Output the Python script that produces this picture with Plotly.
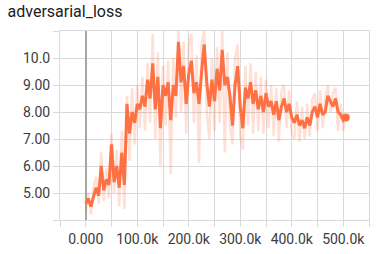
import plotly.graph_objects as go

steps = list(range(0, 505001, 5000))

smoothed = [4.6, 4.8, 4.5, 4.9, 5.2, 4.9, 6.0, 5.1, 5.5, 5.3,
            6.8, 5.4, 6.0, 5.2, 6.5, 5.3, 8.3, 7.2, 8.0, 7.6,
            8.3, 8.1, 8.6, 8.2, 9.2, 8.5, 9.8, 8.1, 9.3, 7.4,
            9.0, 8.6, 9.1, 7.7, 9.0, 8.6, 10.6, 9.1, 9.7, 8.3,
            9.4, 9.9, 8.7, 9.1, 8.3, 9.5, 10.5, 9.1, 8.2, 9.2,
            8.4, 9.6, 8.8, 10.3, 9.0, 9.3, 8.6, 7.5, 9.0, 9.7,
            8.2, 7.4, 8.9, 8.5, 9.1, 8.3, 8.8, 8.1, 8.6, 8.0,
            8.7, 8.2, 8.4, 7.9, 8.4, 7.7, 8.2, 8.5, 8.0, 8.3,
            7.8, 7.6, 7.9, 7.5, 7.7, 7.4, 7.8, 7.5, 8.0, 8.2,
            7.8, 8.3, 7.9, 8.0, 8.6, 8.4, 8.2, 8.5, 8.0, 7.9,
            7.7, 7.8]

raw = [4.3, 5.0, 4.2, 5.2, 5.6, 4.6, 6.5, 4.7, 5.9, 4.8,
       7.2, 5.0, 6.6, 4.5, 7.3, 4.4, 8.6, 6.2, 8.9, 6.8,
       9.0, 7.4, 9.3, 7.3, 9.8, 7.6, 10.9, 7.0, 10.2, 6.0,
       9.7, 7.5, 9.9, 5.7, 10.0, 7.8, 11.0, 8.0, 10.6, 7.2,
       10.5, 10.9, 7.6, 10.1, 6.1, 10.5, 11.0, 8.0, 7.0, 10.0,
       7.3, 10.4, 7.6, 11.0, 6.5, 10.2, 7.5, 6.8, 10.0, 10.5,
       7.1, 6.6, 9.7, 7.5, 9.8, 7.2, 9.5, 7.3, 9.3, 7.2,
       9.2, 7.4, 9.0, 7.1, 8.9, 6.9, 8.8, 9.0, 7.4, 8.8,
       7.2, 7.0, 8.4, 6.9, 8.2, 7.0, 8.3, 7.1, 8.5, 8.7,
       7.3, 8.8, 7.4, 8.5, 9.0, 8.0, 8.7, 8.9, 7.3, 8.3,
       7.3, 7.8]

x_tickvals = list(range(-50000, 550001, 50000))
x_ticktext = ["" if v % 100000 or v < 0 else ("0.000" if v == 0 else f"{v/1000:.1f}k") for v in x_tickvals]
x_ticktext[-1] = ""
y_tickvals = [4, 5, 6, 7, 8, 9, 10, 11]
y_ticktext = ["", "5.00", "6.00", "7.00", "8.00", "9.00", "10.0", ""]

fig = go.Figure()
fig.add_trace(go.Scatter(x=steps, y=raw, mode="lines",
                         line=dict(color="rgba(255,112,67,0.22)", width=2.5),
                         hoverinfo="skip", showlegend=False))
fig.add_trace(go.Scatter(x=steps, y=smoothed, mode="lines",
                         line=dict(color="#ff7043", width=3),
                         showlegend=False))
fig.add_trace(go.Scatter(x=[steps[-1]], y=[smoothed[-1]], mode="markers",
                         marker=dict(color="#ff7043", size=8),
                         showlegend=False))

fig.update_layout(
    width=377, height=254,
    margin=dict(l=60, r=8, t=31, b=34),
    paper_bgcolor="white", plot_bgcolor="white",
    font=dict(family="Roboto", size=14, color="#3c3c3c"),
    title=dict(text="adversarial_loss", x=0.02, xanchor="left", y=0.955, yanchor="middle",
               font=dict(family="Roboto", size=16, color="#212121")),
)
fig.update_xaxes(range=[-50000, 550000], tickvals=x_tickvals, ticktext=x_ticktext,
                 showgrid=True, gridcolor="#d9d9d9", gridwidth=1,
                 zeroline=True, zerolinecolor="#a6a6a6", zerolinewidth=2,
                 ticks="outside", ticklen=6, tickcolor="#d9d9d9",
                 showline=True, linecolor="#d9d9d9", mirror=True,
                 tickfont=dict(size=14))
fig.update_yaxes(range=[4, 11], tickvals=y_tickvals, ticktext=y_ticktext,
                 showgrid=True, gridcolor="#d9d9d9", gridwidth=1, zeroline=False,
                 ticks="outside", ticklen=6, tickcolor="#d9d9d9",
                 showline=True, linecolor="#d9d9d9", mirror=True,
                 tickfont=dict(size=14))

fig.write_html("out.html")
